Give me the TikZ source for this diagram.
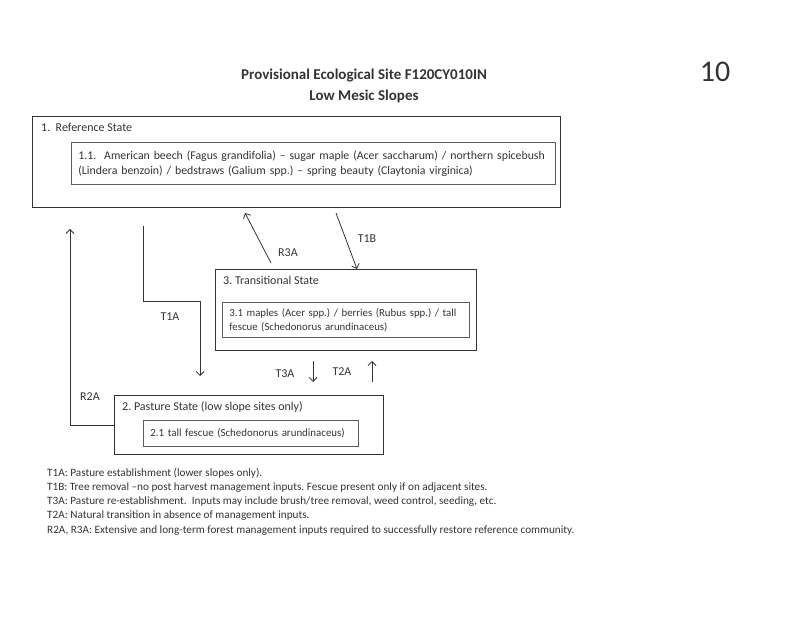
\documentclass[tikz,border=0pt]{standalone}
\usepackage{fontspec}
\setmainfont{Carlito}
\usetikzlibrary{positioning,arrows.meta}
\definecolor{ink}{HTML}{333333}
\frenchspacing
\tikzset{
  statebox/.style={draw=ink, line width=1.3pt, minimum width=#1, anchor=north west, inner sep=0pt},
  phasebox/.style={draw=ink!80, line width=0.8pt, anchor=north west, align=left, text width=#1, inner xsep=7pt, inner ysep=3pt},
  statelabel/.style={anchor=west, inner sep=0pt, font=\fontsize{12}{14}\selectfont},
  trlabel/.style={inner sep=0pt, font=\fontsize{12}{14}\selectfont},
  link/.style={draw=ink, line width=0.8pt, -{Straight Barb[length=4pt,width=8pt]}},
}
\begin{document}
\begin{tikzpicture}[x=1pt,y=-1pt,text=ink]
  \useasboundingbox (0,0) rectangle (800,617);
  % header
  \node[font=\bfseries\fontsize{15}{20.5}\selectfont, align=center] (title) at (364,86) {Provisional Ecological Site F120CY010IN\\Low Mesic Slopes};
  \node[font=\fontsize{30}{30}\selectfont] (page) at (715,72) {10};
  % states
  \node[statebox=528pt, minimum height=91pt] (ref) at (32,116) {};
  \node[statelabel] (reftitle) at (41,127) {1.\ \ Reference State};
  \node[phasebox=470pt, minimum height=42pt, font=\fontsize{11.8}{15}\selectfont] (refcom) at (71,142) {1.1.\ \ American beech (Fagus grandifolia) -- sugar maple (Acer saccharum) / northern spicebush\\(Lindera benzoin) / bedstraws (Galium spp.) -- spring beauty (Claytonia virginica)};
  \node[statebox=261pt, minimum height=81pt] (trans) at (215,269) {};
  \node[statelabel] (transtitle) at (223,280) {3. Transitional State};
  \node[phasebox=233pt, minimum height=35pt, font=\fontsize{10.8}{14}\selectfont] (transcom) at (222,302) {3.1 maples (Acer spp.) / berries (Rubus spp.) / tall\\fescue (Schedonorus arundinaceus)};
  \node[statebox=269pt, minimum height=59pt] (past) at (114,395) {};
  \node[statelabel] (pasttitle) at (122,407) {2. Pasture State (low slope sites only)};
  \node[phasebox=201pt, minimum height=26pt, font=\fontsize{10.9}{12}\selectfont] (pastcom) at (143,420) {2.1 tall fescue (Schedonorus arundinaceus)};
  % transitions
  \coordinate (r2aend) at (70,229);
  \coordinate (t1astart) at (143,226);
  \coordinate (t1abend) at (200,301);
  \coordinate (t1aend) at (200,376);
  \coordinate (r3astart) at (271,263);
  \coordinate (r3aend) at (245,213);
  \coordinate (t1bstart) at (336,213);
  \coordinate (t1bend) at (357,269);
  \coordinate (t3astart) at (313,361);
  \coordinate (t3aend) at (313,382);
  \coordinate (t2astart) at (372,382);
  \coordinate (t2aend) at (372,361);
  \draw[link] (past.west) -| (r2aend);
  \draw[link] (t1astart) |- (t1abend) -- (t1aend);
  \draw[link] (r3astart) -- (r3aend);
  \draw[link] (t1bstart) -- (t1bend);
  \draw[link] (t3astart) -- (t3aend);
  \draw[link] (t2astart) -- (t2aend);
  \node[trlabel] (r2a) at (90,397) {R2A};
  \node[trlabel] (t1a) at (170,317) {T1A};
  \node[trlabel] (r3a) at (288,253) {R3A};
  \node[trlabel] (t1b) at (367,239) {T1B};
  \node[trlabel] (t3a) at (285,374) {T3A};
  \node[trlabel] (t2a) at (342,372) {T2A};
  % legend
  \node[anchor=north west, align=left, inner sep=0pt, font=\fontsize{11.2}{14.2}\selectfont] (legend) at (47,468) {T1A: Pasture establishment (lower slopes only).\\
T1B: Tree removal --no post harvest management inputs. Fescue present only if on adjacent sites.\\
T3A: Pasture re-establishment.\ \ Inputs may include brush/tree removal, weed control, seeding, etc.\\
T2A: Natural transition in absence of management inputs.\\
R2A, R3A: Extensive and long-term forest management inputs required to successfully restore reference community.};
\end{tikzpicture}
\end{document}
